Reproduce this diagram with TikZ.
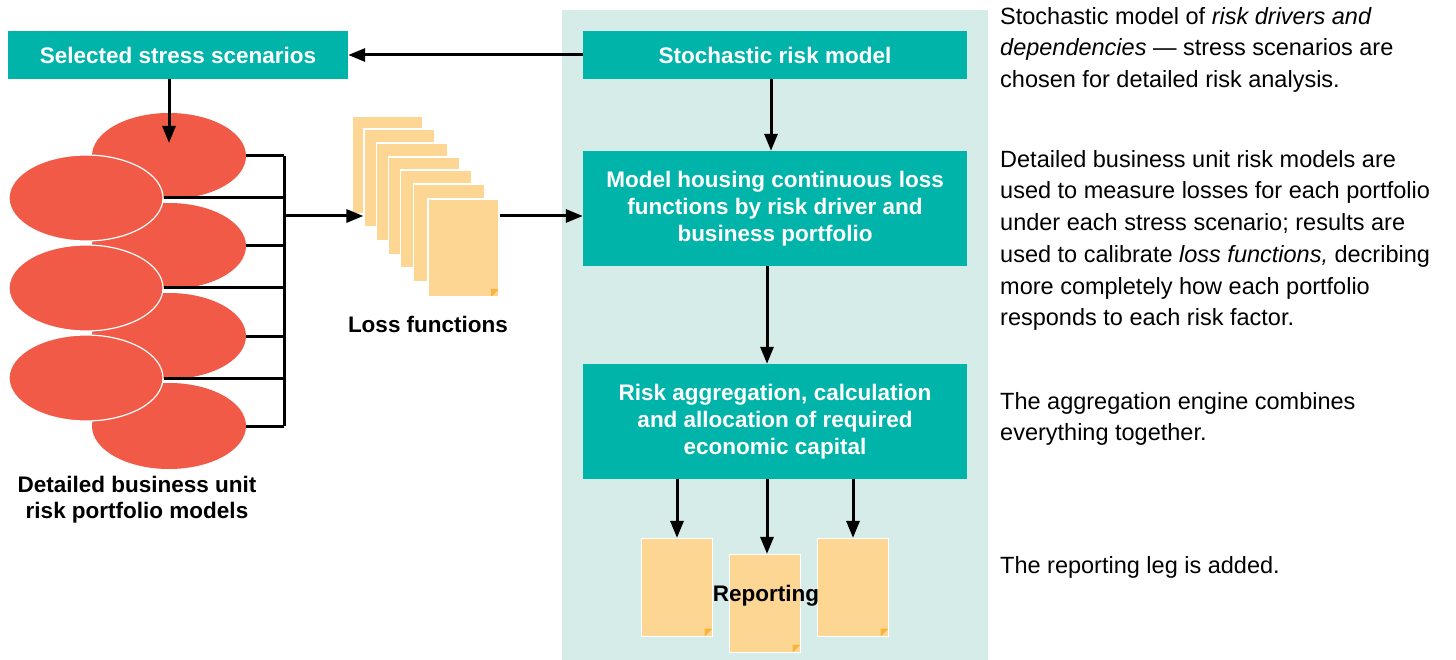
\documentclass[tikz,border=0pt]{standalone}
\usepackage{fontspec}
\setmainfont{Liberation Sans}
\usetikzlibrary{shapes.geometric,shapes.misc,arrows.meta}
\definecolor{tealbox}{RGB}{0,180,170}
\definecolor{panel}{RGB}{214,236,232}
\definecolor{ellred}{RGB}{240,90,70}
\definecolor{pagec}{RGB}{254,214,148}
\definecolor{earc}{RGB}{248,180,60}
\begin{document}
\begin{tikzpicture}[x=1pt,y=-1pt,
  box/.style={fill=tealbox,text=white,inner sep=0pt,align=center,
    font=\fontsize{22.5}{26.7}\selectfont\bfseries},
  ell/.style={ellipse,fill=ellred,inner sep=0pt,minimum width=154pt,minimum height=86pt},
  ellw/.style={ell,draw=white,line width=1.2pt},
  page/.style={chamfered rectangle,chamfered rectangle corners=south east,
    chamfered rectangle xsep=7pt,chamfered rectangle ysep=7pt,
    fill=pagec,draw=white,line width=1.2pt,inner sep=0pt,
    minimum width=71pt,minimum height=98pt,
    path picture={\fill[earc] ([xshift=-8pt]path picture bounding box.south east)
      -- ([yshift=8pt]path picture bounding box.south east)
      -- ([xshift=-8pt,yshift=8pt]path picture bounding box.south east) -- cycle;}},
  link/.style={line width=3pt,black},
  arr/.style={link,-{Triangle[length=17pt,width=13pt]}},
  lbl/.style={font=\fontsize{22.5}{25.5}\selectfont\bfseries,align=center,inner sep=0pt},
  note/.style={font=\fontsize{23.5}{31.7}\selectfont,align=left,anchor=north west,inner sep=0pt}
]
\useasboundingbox (0,0) rectangle (1456,660);
% panel
\fill[panel] (562,10) rectangle (988,660);

% boxes
\node[box,minimum width=384pt,minimum height=48pt] (stoch) at (775,55) {Stochastic risk model};
\node[box,minimum width=340pt,minimum height=48pt] (sel) at (178,55) {Selected stress scenarios};
\node[box,minimum width=384pt,minimum height=115pt] (model) at (775,208.5)
  {Model housing continuous loss\\functions by risk driver and\\business portfolio};
\node[box,minimum width=384pt,minimum height=115pt] (agg) at (775,421.5)
  {Risk aggregation, calculation\\and allocation of required\\economic capital};

% ellipses
\node[ell] (r1) at (169,156) {};
\node[ell] (r2) at (169,246) {};
\node[ell] (r3) at (169,336) {};
\node[ell] (r4) at (169,426) {};
\node[ellw] (l1) at (86,198) {};
\node[ellw] (l2) at (86,288) {};
\node[ellw] (l3) at (86,378) {};

% bracket
\coordinate (btop) at (284,156);
\coordinate (bbot) at (284,426);
\coordinate (bmid) at (284,216);
\draw[link] (btop) -- (bbot);
\foreach \e in {r1,r2,r3,r4,l1,l2,l3} \draw[link] (\e.east) -- (\e.east -| btop);

% loss function pages
\node[page] (p1) at (387.5,165) {};
\node[page] (p2) at (399.5,178) {};
\node[page] (p3) at (412,192) {};
\node[page] (p4) at (424,206) {};
\node[page] (p5) at (436,219) {};
\node[page] (p6) at (449,233) {};
\node[page] (p7) at (463.5,248) {};
\node[lbl] (losslbl) at (428,324) {Loss functions};
\node[lbl] (detlbl) at (137,499.5) {Detailed business unit\\risk portfolio models};

% reporting pages
\node[page] (rp1) at (677,587.5) {};
\node[page] (rp2) at (765,603.5) {};
\node[page] (rp3) at (853,587.5) {};
\node[lbl] (replbl) at (766,596) {Reporting};

% connectors
\draw[arr] (stoch.west) -- (sel.east);
\draw[arr] (sel.south -| r1) -- ([yshift=13pt]r1.center);
\draw[arr] (bmid) -- (bmid -| p2.west);
\draw[arr] (bmid -| p7.east) -- (bmid -| model.west);
\draw[arr] (stoch.south -| 771,0) -- (model.north -| 771,0);
\draw[arr] (model.south -| 767,0) -- (agg.north -| 767,0);
\draw[arr] (agg.south -| rp1) -- (rp1.north);
\draw[arr] (agg.south -| 767,0) -- (rp2.north -| 767,0);
\draw[arr] (agg.south -| rp3) -- (rp3.north);

% notes
\node[note] (n1) at (1000,7) {Stochastic model of \textit{risk drivers and}\\\textit{dependencies} --- stress scenarios are\\chosen for detailed risk analysis.};
\node[note] (n2) at (1000,150) {Detailed business unit risk models are\\used to measure losses for each portfolio\\under each stress scenario; results are\\used to calibrate \textit{loss functions,} decribing\\more completely how each portfolio\\responds to each risk factor.};
\node[note] (n3) at (1000,392) {The aggregation engine combines\\everything together.};
\node[note] (n4) at (1000,556) {The reporting leg is added.};
\end{tikzpicture}
\end{document}
